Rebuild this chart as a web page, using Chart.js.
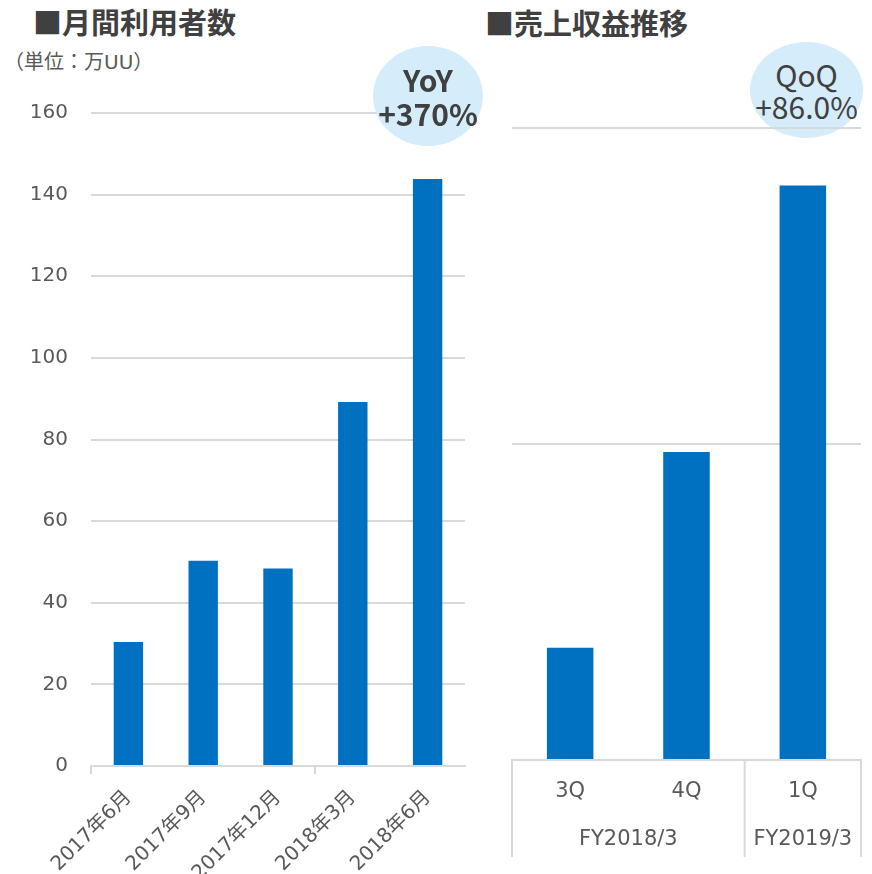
<!DOCTYPE html>
<html>
<head>
<meta charset="utf-8">
<script src="https://cdn.jsdelivr.net/npm/chart.js@4/dist/chart.umd.min.js"></script>
<style>
body { margin: 0; background: #fff; }
#page { position: relative; width: 872px; height: 874px; overflow: hidden; }
canvas { position: absolute; top: 0; }
.title { position: absolute; font: bold 29px "Noto Sans CJK JP"; line-height: 29px; color: #404040; white-space: nowrap; }
.unit { position: absolute; font: 20px "DejaVu Sans", "Noto Sans CJK JP"; line-height: 20px; color: #595959; white-space: nowrap; }
.bubble { position: absolute; border-radius: 50%; background: #d5ecfb; color: #404040;
  display: flex; flex-direction: column; justify-content: center; align-items: center;
  font-family: "Noto Sans CJK JP"; font-size: 30px; white-space: nowrap; }
</style>
</head>
<body>
<div id="page">
  <div class="bubble" id="qoq" style="left:750px; top:42px; width:113px; height:96px; line-height:32px; z-index:0;">
    <div>QoQ</div><div>+86.0%</div>
  </div>
  <canvas id="users" width="480" height="874" style="left:0; z-index:1;"></canvas>
  <canvas id="revenue" width="392" height="874" style="left:480px; z-index:1;"></canvas>
  <div class="title" style="left:33px; top:7px;">■月間利用者数</div>
  <div class="title" style="left:485px; top:8px;">■売上収益推移</div>
  <div class="unit" style="left:4px; top:52px;">（単位：万UU）</div>
  <div class="bubble" style="left:373px; top:46px; width:110px; height:100px; line-height:34px; font-weight:bold; z-index:2;">
    <div>YoY</div><div>+370%</div>
  </div>
</div>
<script>
// 月間利用者数 (万UU)
const userLabels = ['2017年6月', '2017年9月', '2017年12月', '2018年3月', '2018年6月'];
const userValues = [30.4, 50.3, 48.4, 89.2, 143.8];
const userMax = 160;
const userStep = 20;

// 売上収益 (no axis labels in the source, gridlines at 100 / 200)
const revenueLabels = ['3Q', '4Q', '1Q'];
const revenueValues = [35.5, 97.5, 181.8];
const revenueMax = 200;
const revenueStep = 100;
const fiscalGroups = ['FY2018/3', 'FY2019/3'];
const fiscalSpans = [2, 1];

Chart.defaults.font.family = '"DejaVu Sans", "Noto Sans CJK JP", sans-serif';
Chart.defaults.color = '#595959';

const gridGray = '#d9d9d9';
const barBlue = '#0070c0';

new Chart(document.getElementById('users'), {
    type: 'bar',
    data: {
        labels: userLabels,
        datasets: [{
            data: userValues,
            backgroundColor: barBlue,
            barPercentage: 0.393,
            categoryPercentage: 1,
        }],
    },
    options: {
        responsive: false,
        animation: false,
        layout: { padding: { top: 113, right: 15, left: 0, bottom: 0 } },
        plugins: { legend: { display: false }, tooltip: { enabled: false } },
        scales: {
            x: {
                grid: {
                    offset: true,
                    drawOnChartArea: false,
                    tickLength: 8,
                    lineWidth: 2,
                    color: (c) => c.index % 3 === 0 ? gridGray : 'rgba(0,0,0,0)',
                },
                border: { color: gridGray, width: 2 },
                ticks: { minRotation: 45, maxRotation: 45, font: { size: 20 }, padding: 12 },
                afterFit: (s) => { s.height = 108; },
            },
            y: {
                min: 0,
                max: userMax,
                ticks: { stepSize: userStep, font: { size: 20 }, padding: 23 },
                grid: { color: gridGray, lineWidth: 2, drawTicks: false },
                border: { display: false },
                afterFit: (s) => { s.width = 91; },
            },
        },
    },
});

// second row of the category axis: fiscal year groups with separators
const fiscalAxis = {
    id: 'fiscalAxis',
    afterDraw(chart) {
        const x = chart.scales.x;
        const ctx = chart.ctx;
        const half = (x.getPixelForValue(1) - x.getPixelForValue(0)) / 2;
        const edges = [x.getPixelForValue(0) - half];
        let start = 0;
        ctx.save();
        ctx.fillStyle = '#595959';
        ctx.font = '21px "DejaVu Sans", "Noto Sans CJK JP"';
        ctx.textAlign = 'center';
        ctx.textBaseline = 'middle';
        fiscalSpans.forEach((n, i) => {
            const left = x.getPixelForValue(start) - half;
            const right = x.getPixelForValue(start + n - 1) + half;
            ctx.fillText(fiscalGroups[i], (left + right) / 2, x.top + 80);
            edges.push(right);
            start += n;
        });
        ctx.strokeStyle = gridGray;
        ctx.lineWidth = 2;
        edges.forEach((e) => {
            ctx.beginPath();
            ctx.moveTo(e, x.top);
            ctx.lineTo(e, x.top + 97);
            ctx.stroke();
        });
        ctx.restore();
    },
};

new Chart(document.getElementById('revenue'), {
    type: 'bar',
    data: {
        labels: revenueLabels,
        datasets: [{
            data: revenueValues,
            backgroundColor: barBlue,
            barPercentage: 0.4,
            categoryPercentage: 1,
        }],
    },
    options: {
        responsive: false,
        animation: false,
        layout: { padding: { top: 128, right: 11, left: 32, bottom: 0 } },
        plugins: { legend: { display: false }, tooltip: { enabled: false } },
        scales: {
            x: {
                grid: { display: false, drawTicks: false },
                border: { color: gridGray, width: 2 },
                ticks: { font: { size: 21 }, padding: 19 },
                afterFit: (s) => { s.height = 114; },
            },
            y: {
                min: 0,
                max: revenueMax,
                ticks: { display: false, stepSize: revenueStep },
                grid: {
                    color: (c) => c.tick && c.tick.value === 0 ? 'rgba(0,0,0,0)' : gridGray,
                    lineWidth: 2,
                    drawTicks: false,
                },
                border: { display: false },
                afterFit: (s) => { s.width = 0; },
            },
        },
    },
    plugins: [fiscalAxis],
});
</script>
</body>
</html>
